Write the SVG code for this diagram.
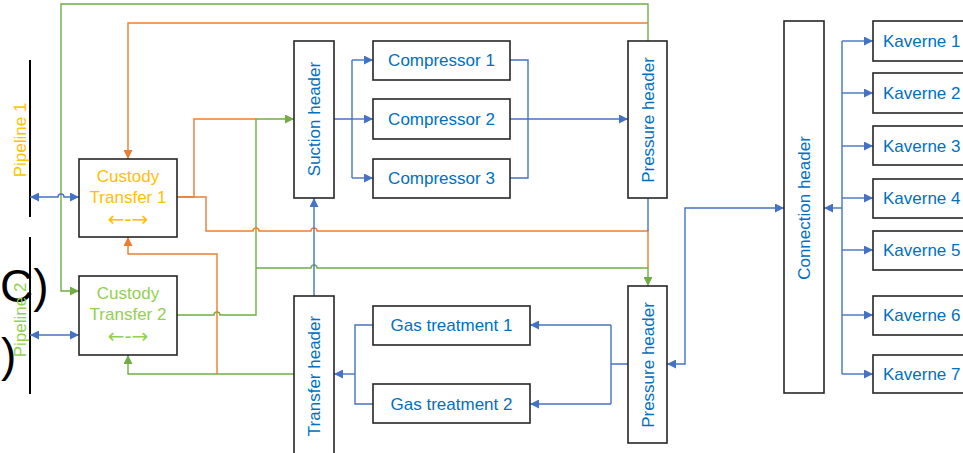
<svg xmlns="http://www.w3.org/2000/svg" width="963" height="453" viewBox="0 0 963 453">
<style>
.box{fill:#fff;stroke:#262626;stroke-width:1.6}
.t{font-family:"Liberation Sans",Arial,sans-serif;font-size:17px;fill:#0070C0}
.ar{font-family:"DejaVu Sans",sans-serif;font-size:20px}
.c{text-anchor:middle}
.r{text-anchor:middle;dominant-baseline:central}
.b{fill:none;stroke:#4472C4;stroke-width:1.4}
.o{fill:none;stroke:#ED7D31;stroke-width:1.4}
.g{fill:none;stroke:#70AD47;stroke-width:1.4}
.ab{marker-end:url(#mb)}
.abb{marker-end:url(#mb);marker-start:url(#mb)}
.ao{marker-end:url(#mo)}
.ag{marker-end:url(#mg)}
</style>
<defs>
<marker id="mb" viewBox="0 0 10 10" refX="10" refY="5" markerWidth="9" markerHeight="9" markerUnits="userSpaceOnUse" orient="auto-start-reverse"><path d="M0,0L10,5L0,10z" fill="#4472C4"/></marker>
<marker id="mo" viewBox="0 0 10 10" refX="10" refY="5" markerWidth="9" markerHeight="9" markerUnits="userSpaceOnUse" orient="auto"><path d="M0,0L10,5L0,10z" fill="#ED7D31"/></marker>
<marker id="mg" viewBox="0 0 10 10" refX="10" refY="5" markerWidth="9" markerHeight="9" markerUnits="userSpaceOnUse" orient="auto"><path d="M0,0L10,5L0,10z" fill="#70AD47"/></marker>
</defs>
<rect width="963" height="453" fill="#fff"/>

<g id="pipeline1">
<line x1="30" y1="60" x2="30" y2="217" stroke="#000" stroke-width="2"/>
<text class="t r" transform="translate(20,140) rotate(-90)" style="fill:#FFC000">Pipeline 1</text>
</g>
<g id="pipeline2">
<line x1="30" y1="237" x2="30" y2="394" stroke="#000" stroke-width="2"/>
<text x="0" y="302" style="font-family:'Liberation Sans',Arial,sans-serif;font-size:46px;fill:#000">C)</text>
<text x="1" y="371" style="font-family:'Liberation Sans',Arial,sans-serif;font-size:46px;fill:#000">)</text>
<text class="t r" transform="translate(20,320) rotate(-90)" style="fill:#92D050">Pipeline 2</text>
</g>

<g id="connectors">
<!-- green -->
<path class="g ag" d="M648,41V4H61V291H79"/>
<path class="g ag" d="M177,315H214a3,3 0 0 1 6,0H256V119H294"/>
<path class="g ag" d="M256,268H311a3,3 0 0 1 6,0H648V286"/>
<path class="g ag" d="M294,374H128V355"/>
<!-- orange -->
<path class="o ao" d="M648,23H128V159"/>
<path class="o" d="M177,197H194V119H256"/>
<path class="o" d="M177,197H206V231H253a3,3 0 0 1 6,0H311a3,3 0 0 1 6,0H648V268"/>
<path class="o ao" d="M217,374V254H128V237"/>
<!-- blue -->
<path class="b abb" d="M30,197H58a3,3 0 0 1 6,0H79"/>
<path class="b abb" d="M30,335H79"/>
<path class="b" d="M334,119H352M352,60V178"/>
<path class="b ab" d="M352,60H373"/>
<path class="b ab" d="M352,119H373"/>
<path class="b ab" d="M352,178H373"/>
<path class="b" d="M510,60H528V178H510"/>
<path class="b ab" d="M510,119H628"/>
<path class="b ab" d="M314,296V198"/>
<path class="b" d="M648,198V231"/>
<path class="b" d="M628,364H611M611,325V404"/>
<path class="b ab" d="M611,325H530"/>
<path class="b ab" d="M611,404H530"/>
<path class="b" d="M373,325H355V404H373"/>
<path class="b ab" d="M355,374H334"/>
<path class="b abb" d="M667,364H685V208H784"/>
<path class="b" d="M842,41V374"/>
<path class="b ab" d="M842,208H824"/>
<path class="b ab" d="M842,41H873"/>
<path class="b ab" d="M842,93H873"/>
<path class="b ab" d="M842,146H873"/>
<path class="b ab" d="M842,198H873"/>
<path class="b ab" d="M842,250H873"/>
<path class="b ab" d="M842,315H873"/>
<path class="b ab" d="M842,374H873"/>
</g>

<g id="ct1">
<rect class="box" x="79" y="159" width="98" height="78"/>
<text class="t c" x="128" y="182" style="fill:#FFC000">Custody</text>
<text class="t c" x="128" y="203" style="fill:#FFC000">Transfer 1</text>
<text class="t c ar" x="128" y="226" style="fill:#FFC000">←-→</text>
</g>
<g id="ct2">
<rect class="box" x="79" y="276" width="98" height="79"/>
<text class="t c" x="128" y="299" style="fill:#92D050">Custody</text>
<text class="t c" x="128" y="320" style="fill:#92D050">Transfer 2</text>
<text class="t c ar" x="128" y="343" style="fill:#92D050">←-→</text>
</g>
<g id="suction">
<rect class="box" x="294" y="41" width="40" height="157"/>
<text class="t r" transform="translate(314,119) rotate(-90)">Suction header</text>
</g>
<g id="comp1"><rect class="box" x="373" y="41" width="137" height="39"/><text class="t c" x="441.5" y="66">Compressor 1</text></g>
<g id="comp2"><rect class="box" x="373" y="99" width="137" height="40"/><text class="t c" x="441.5" y="125">Compressor 2</text></g>
<g id="comp3"><rect class="box" x="373" y="159" width="137" height="39"/><text class="t c" x="441.5" y="184">Compressor 3</text></g>
<g id="pressure1">
<rect class="box" x="628" y="41" width="39" height="157"/>
<text class="t r" transform="translate(648,120) rotate(-90)">Pressure header</text>
</g>
<g id="transfer">
<rect class="box" x="294" y="296" width="40" height="160"/>
<text class="t r" transform="translate(314,376) rotate(-90)">Transfer header</text>
</g>
<g id="gt1"><rect class="box" x="373" y="306" width="157" height="39"/><text class="t c" x="451.5" y="331">Gas treatment 1</text></g>
<g id="gt2"><rect class="box" x="373" y="384" width="157" height="39"/><text class="t c" x="451.5" y="410">Gas treatment 2</text></g>
<g id="pressure2">
<rect class="box" x="628" y="286" width="39" height="157"/>
<text class="t r" transform="translate(648,365) rotate(-90)">Pressure header</text>
</g>
<g id="connection">
<rect class="box" x="784" y="21" width="40" height="372"/>
<text class="t r" transform="translate(804,208) rotate(-90)">Connection header</text>
</g>
<g id="k1"><rect class="box" x="873" y="21" width="100" height="40"/><text class="t" x="883" y="47">Kaverne 1</text></g>
<g id="k2"><rect class="box" x="873" y="73" width="100" height="40"/><text class="t" x="883" y="99">Kaverne 2</text></g>
<g id="k3"><rect class="box" x="873" y="126" width="100" height="39"/><text class="t" x="883" y="152">Kaverne 3</text></g>
<g id="k4"><rect class="box" x="873" y="179" width="100" height="39"/><text class="t" x="883" y="204">Kaverne 4</text></g>
<g id="k5"><rect class="box" x="873" y="231" width="100" height="39"/><text class="t" x="883" y="256">Kaverne 5</text></g>
<g id="k6"><rect class="box" x="873" y="296" width="100" height="39"/><text class="t" x="883" y="321">Kaverne 6</text></g>
<g id="k7"><rect class="box" x="873" y="355" width="100" height="38"/><text class="t" x="883" y="380">Kaverne 7</text></g>
</svg>
